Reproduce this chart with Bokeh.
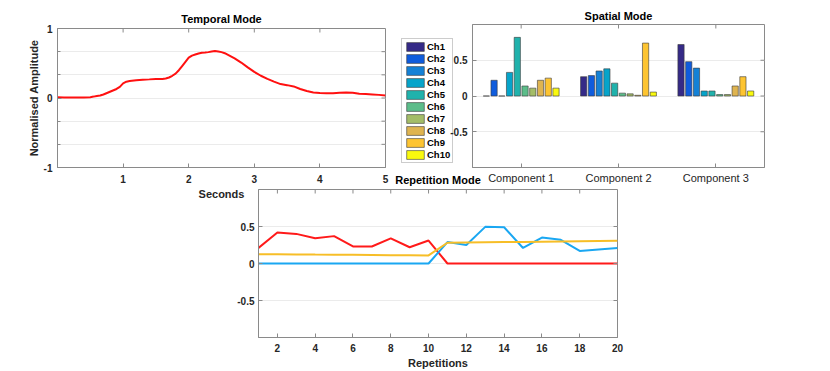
import math
from bokeh.plotting import figure
from bokeh.models import (Range1d, FixedTicker, FactorRange, Legend, LegendItem,
                          ColumnDataSource, CustomJSTickFormatter)
from bokeh.transform import dodge
from bokeh.layouts import column, row
from bokeh.embed import file_html
from bokeh.resources import INLINE

# ---------------- data ----------------
t_seconds = [0.0, 0.1, 0.2, 0.3, 0.4, 0.5, 0.55, 0.6, 0.65, 0.7, 0.8, 0.9, 0.95, 1.0, 1.05,
             1.1, 1.2, 1.3, 1.4, 1.5, 1.6, 1.65, 1.7, 1.75, 1.8, 1.85, 1.9, 1.95, 2.0, 2.05,
             2.1, 2.15, 2.2, 2.25, 2.3, 2.35, 2.4, 2.45, 2.5, 2.55, 2.6, 2.7, 2.8, 2.9, 3.0,
             3.1, 3.2, 3.3, 3.4, 3.5, 3.6, 3.7, 3.8, 3.9, 4.0, 4.1, 4.2, 4.3, 4.4, 4.5,
             4.6, 4.7, 4.8, 4.9, 5.0]
temporal_amp = [0.010, 0.008, 0.006, 0.007, 0.008, 0.012, 0.020, 0.030, 0.035, 0.050, 0.090,
                0.130, 0.160, 0.210, 0.235, 0.245, 0.255, 0.262, 0.268, 0.275, 0.272, 0.280,
                0.295, 0.320, 0.350, 0.400, 0.460, 0.520, 0.580, 0.610, 0.625, 0.640, 0.652,
                0.655, 0.660, 0.668, 0.675, 0.670, 0.660, 0.645, 0.620, 0.570, 0.510, 0.440,
                0.375, 0.320, 0.275, 0.235, 0.200, 0.185, 0.167, 0.130, 0.100, 0.080, 0.072,
                0.068, 0.068, 0.075, 0.080, 0.075, 0.062, 0.058, 0.052, 0.045, 0.035]
temporal_xticks = [1, 2, 3, 4, 5]
temporal_yticks = [-1, 0, 1]
temporal_yminor = [-2/3, -1/3, 1/3, 2/3]

components = ["Component 1", "Component 2", "Component 3"]
channels = ["Ch1", "Ch2", "Ch3", "Ch4", "Ch5", "Ch6", "Ch7", "Ch8", "Ch9", "Ch10"]
ch_colors = ["#352A87", "#0F5CDD", "#1481D6", "#06A4CA", "#20B2AC",
             "#5CBD8A", "#A4BD68", "#DFB450", "#FDC431", "#F9F90E"]
# spatial weights: one list per channel, values for Component 1..3
spatial = {
    "Ch1": [0.00, 0.27, 0.72],
    "Ch2": [0.22, 0.285, 0.48],
    "Ch3": [0.00, 0.35, 0.39],
    "Ch4": [0.33, 0.38, 0.07],
    "Ch5": [0.82, 0.18, 0.07],
    "Ch6": [0.14, 0.04, 0.02],
    "Ch7": [0.11, 0.03, 0.02],
    "Ch8": [0.22, 0.01, 0.14],
    "Ch9": [0.25, 0.74, 0.27],
    "Ch10": [0.11, 0.055, 0.07],
}
spatial_yticks = [-0.5, 0, 0.5]

repetitions = list(range(1, 21))
rep_red = [0.21, 0.42, 0.40, 0.34, 0.37, 0.23, 0.23, 0.34, 0.22, 0.31,
           0.0, 0.0, 0.0, 0.0, 0.0, 0.0, 0.0, 0.0, 0.0, 0.0]
rep_blue = [0.0, 0.0, 0.0, 0.0, 0.0, 0.0, 0.0, 0.0, 0.0, 0.0,
            0.29, 0.25, 0.495, 0.49, 0.21, 0.35, 0.32, 0.17, 0.19, 0.21]
rep_yellow = [0.126, 0.124, 0.122, 0.120, 0.119, 0.117, 0.115, 0.113, 0.111, 0.109,
              0.280, 0.283, 0.286, 0.289, 0.292, 0.295, 0.298, 0.301, 0.304, 0.307]
rep_xticks = [2, 4, 6, 8, 10, 12, 14, 16, 18, 20]
rep_yticks = [-0.5, 0, 0.5]

# ---------------- style helpers ----------------
FONT = "Liberation Sans"
TXT = "#262626"
BOX = "#8a8a8a"
GRID = "#ebebeb"
BAR_EDGE = dict(line_color="#3a3a3a", line_alpha=0.6, line_width=1)

num_fmt = CustomJSTickFormatter(code="return tick.toString();")


def style_axis(ax, standoff=5, size="10px", bold=True):
    ax.axis_line_color = BOX
    ax.major_tick_line_color = BOX
    ax.major_tick_in = 4
    ax.major_tick_out = 0
    ax.minor_tick_line_color = None
    ax.major_label_text_font = FONT
    ax.major_label_text_font_style = "bold" if bold else "normal"
    ax.major_label_text_font_size = size
    ax.major_label_text_color = TXT
    ax.major_label_standoff = standoff


def style_axis_label(ax, text, standoff):
    ax.axis_label = text
    ax.axis_label_text_font = FONT
    ax.axis_label_text_font_style = "bold"
    ax.axis_label_text_font_size = "11px"
    ax.axis_label_text_color = TXT
    ax.axis_label_standoff = standoff


def style_title(p, text, standoff):
    p.title.text = text
    p.title.align = "center"
    p.title.text_font = FONT
    p.title.text_font_style = "bold"
    p.title.text_font_size = "11px"
    p.title.text_color = "black"
    p.title.standoff = standoff


def base_fig(width, height, x_range, y_range, borders):
    l, r, t, b = borders
    p = figure(width=width, height=height, x_range=x_range, y_range=y_range,
               output_backend="svg", toolbar_location=None,
               min_border_left=l, min_border_right=r, min_border_top=t, min_border_bottom=b)
    p.outline_line_color = BOX
    p.background_fill_color = "white"
    p.border_fill_alpha = 0
    p.xgrid.visible = False
    p.ygrid.grid_line_color = GRID
    return p


def box_ticks(p, xs, ys, x_edge, y_edge):
    # inward tick marks on the top and right edges of the box
    p.scatter(x=xs, y=[y_edge] * len(xs), marker="dash", size=8, angle=math.pi / 2,
              line_color=BOX, line_width=1)
    p.scatter(x=[x_edge] * len(ys), y=ys, marker="dash", size=8,
              line_color=BOX, line_width=1)


# ---------------- temporal ----------------
p1 = base_fig(390, 202, Range1d(0, 5), Range1d(-1, 1), (57, 5, 28, 34))
t_y_ticker = FixedTicker(ticks=temporal_yticks, minor_ticks=temporal_yminor)
p1.yaxis.ticker = t_y_ticker
p1.xaxis.ticker = FixedTicker(ticks=temporal_xticks)
p1.ygrid.ticker = t_y_ticker
p1.ygrid.minor_grid_line_color = GRID
style_axis(p1.xaxis[0], standoff=7)
style_axis(p1.yaxis[0], standoff=5)
p1.yaxis.formatter = num_fmt
p1.yaxis.minor_tick_line_color = BOX
p1.yaxis.minor_tick_in = 3
p1.yaxis.minor_tick_out = 0
style_axis_label(p1.yaxis[0], "Normalised Amplitude", 1)
style_axis_label(p1.xaxis[0], "Seconds", 2)
style_title(p1, "Temporal Mode", 8)
p1.line(t_seconds, temporal_amp, line_color="#FF1010", line_width=2)
box_ticks(p1, temporal_xticks[:-1], temporal_yticks[1:-1] + temporal_yminor,
          p1.x_range.end, p1.y_range.end)

# ---------------- spatial ----------------
comp_range = FactorRange(*components)
src = ColumnDataSource(dict(comp=components, **spatial))
pitch = 0.0795

p2 = base_fig(440, 202, comp_range, Range1d(-1, 1), (82, 66, 24, 35))
s_y_ticker = FixedTicker(ticks=spatial_yticks)
p2.yaxis.ticker = s_y_ticker
p2.ygrid.ticker = s_y_ticker
p2.yaxis.formatter = num_fmt
style_axis(p2.xaxis[0], standoff=4, size="11px", bold=False)
style_axis(p2.yaxis[0], standoff=5)
style_title(p2, "Spatial Mode", 5)

for i, ch in enumerate(channels):
    p2.vbar(x=dodge("comp", (i - 4.5) * pitch, range=comp_range), top=ch, bottom=0,
            width=0.064, source=src, fill_color=ch_colors[i], **BAR_EDGE)
p2.scatter(x=components, y=[p2.y_range.end] * 3, marker="dash", size=8,
           angle=math.pi / 2, line_color=BOX, line_width=1)
edge_src = ColumnDataSource(dict(c=[components[-1]] * len(spatial_yticks), y=spatial_yticks))
p2.scatter(x=dodge("c", 0.5, range=comp_range), y="y", source=edge_src, marker="dash",
           size=8, line_color=BOX, line_width=1)

# ---------------- legend holder (sits left of the spatial box) ----------------
# the same bar series drawn small, entirely underneath the opaque legend box
pL = figure(width=70, height=202, x_range=Range1d(-0.46, 3.34), y_range=Range1d(-0.3, 1.14),
            output_backend="svg", toolbar_location=None,
            x_axis_location=None, y_axis_location=None,
            min_border_left=0, min_border_right=0, min_border_top=0, min_border_bottom=0)
pL.outline_line_color = None
pL.background_fill_alpha = 0
pL.border_fill_alpha = 0
pL.grid.visible = False
legend_items = []
for i, ch in enumerate(channels):
    proxy = pL.vbar(x=dodge("comp", (i - 4.5) * pitch, range=comp_range), top=ch, bottom=0,
                    width=0.064, source=src, fill_color=ch_colors[i], **BAR_EDGE)
    legend_items.append(LegendItem(label=ch, renderers=[proxy]))
legend = Legend(items=legend_items, location=(11, 39), margin=0, padding=2, spacing=1,
                glyph_height=11, glyph_width=22, label_height=11, label_standoff=1,
                label_text_font=FONT, label_text_font_style="bold",
                label_text_font_size="9.5px", label_text_color="black",
                border_line_color="#9a9a9a", background_fill_color="white",
                background_fill_alpha=1.0)
pL.add_layout(legend)

# ---------------- repetition ----------------
p3 = base_fig(830, 205, Range1d(1, 20), Range1d(-1, 1), (258, 213, 23, 34))
p3.margin = (-36, 0, 0, 0)
r_y_ticker = FixedTicker(ticks=rep_yticks)
p3.xaxis.ticker = FixedTicker(ticks=rep_xticks)
p3.yaxis.ticker = r_y_ticker
p3.ygrid.ticker = r_y_ticker
p3.yaxis.formatter = num_fmt
style_axis(p3.xaxis[0], standoff=6)
style_axis(p3.yaxis[0], standoff=4)
style_axis_label(p3.xaxis[0], "Repetitions", 2)
style_title(p3, "Repetition Mode", 8)
p3.line(repetitions, rep_red, line_color="#FF1A1A", line_width=2)
p3.line(repetitions, rep_blue, line_color="#1AA7F2", line_width=2)
p3.line(repetitions, rep_yellow, line_color="#F7BE27", line_width=2)
box_ticks(p3, rep_xticks[:-1], rep_yticks, p3.x_range.end, p3.y_range.end)

top_row = row(column(p1), column(pL), column(p2, margin=(0, 0, 0, -70)), spacing=0)
layout = column(top_row, p3, spacing=0)
open("out.html", "w").write(file_html(layout, INLINE))
